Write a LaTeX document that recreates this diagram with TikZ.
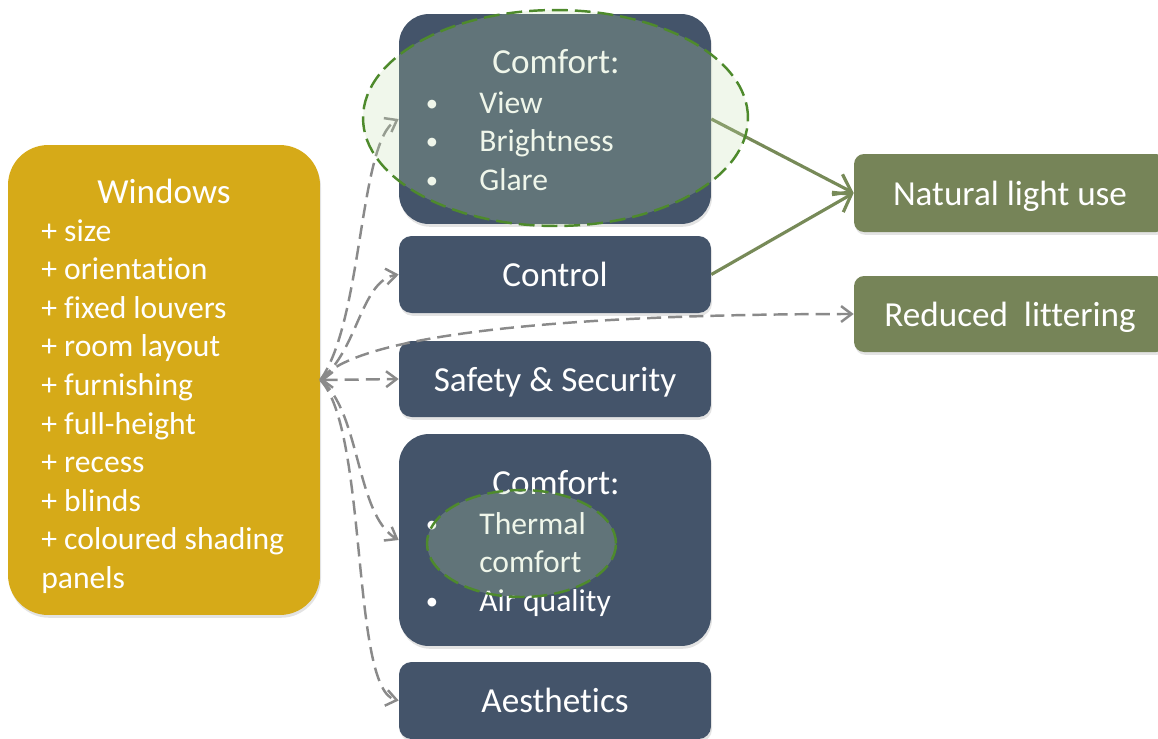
\documentclass[tikz,border=0pt]{standalone}
\usepackage{fontspec}
\setmainfont{Carlito}[Ligatures=NoCommon]
\usetikzlibrary{arrows.meta,shadows}
\definecolor{slate}{HTML}{44546A}
\definecolor{gold}{HTML}{D6AA18}
\definecolor{olive}{HTML}{768458}
\definecolor{oliveline}{HTML}{778A58}
\definecolor{hlgreen}{HTML}{4E8A2C}
\definecolor{hlfill}{RGB}{192,220,170}
\definecolor{conn}{HTML}{8A8A8A}
\begin{document}
\begin{tikzpicture}[x=0.02cm,y=-0.02cm,
  box/.style={inner sep=0pt, text=white, font=\fontsize{20}{24}\selectfont,
    text height=18pt, text depth=4pt, minimum width=6.24cm,
    drop shadow={opacity=0.22,shadow xshift=0.6pt,shadow yshift=-1.6pt}},
  ttl/.style={text=white, font=\fontsize{20}{24}\selectfont, inner sep=0pt, anchor=base},
  itm/.style={text=white, font=\fontsize{18}{22}\selectfont, inner sep=0pt, anchor=base west},
  bul/.style={text=white, font=\fontsize{14}{22}\selectfont, inner sep=0pt, anchor=base},
  tipg/.tip={Straight Barb[length=6pt,width=9pt]},
  conline/.style={draw=conn, line width=1.4pt, dash pattern=on 8pt off 4pt, -tipg},
  effline/.style={draw=oliveline, line width=1.8pt, -{Straight Barb[length=9pt,width=13pt]}},
  hl/.style={draw=hlgreen, line width=1.4pt, dash pattern=on 9pt off 4pt, fill=hlfill, fill opacity=0.24}
]
\useasboundingbox (0,0) rectangle (1158,738);

% boxes
\node[box, fill=gold, rounded corners=0.8cm, minimum height=9.4cm] (win) at (164,380) {};
\node[box, fill=slate, rounded corners=0.6cm, minimum height=4.2cm] (cA) at (555,119) {};
\node[box, fill=slate, rounded corners=0.25cm, minimum height=1.54cm] (ctrl) at (555,274.5) {Control};
\node[box, fill=slate, rounded corners=0.25cm, minimum height=1.52cm] (safe) at (555,379) {Safety \& Security};
\node[box, fill=slate, rounded corners=0.6cm, minimum height=4.24cm] (cB) at (555,540) {};
\node[box, fill=slate, rounded corners=0.25cm, minimum height=1.54cm] (aes) at (555,700.5) {Aesthetics};
\node[box, fill=olive, rounded corners=0.2cm, minimum height=1.56cm] (nat) at (1010,193) {Natural light use};
\node[box, fill=olive, rounded corners=0.2cm, minimum height=1.52cm] (red) at (1010,314) {Reduced\ \ littering};

% Windows text
\node[ttl] (winT) at (164,203) {Windows};
\foreach \t [count=\i from 0] in {+ size,+ orientation,+ fixed louvers,+ room layout,+ furnishing,+ full-height,+ recess,+ blinds,+ coloured shading,panels}
  \node[itm] (winI\i) at (41,{241+38.6*\i}) {\t};

% Comfort (top) text
\node[ttl] (cAT) at (556,73) {Comfort:};
\foreach \t [count=\i from 0] in {View,Brightness,Glare}{
  \node[bul] (cAb\i) at (432,{111+38.5*\i}) {•};
  \node[itm] (cAi\i) at (479,{113+38.5*\i}) {\t};
}

% Comfort (bottom) text
\node[ttl] (cBT) at (556,494) {Comfort:};
\node[bul] (cBb0) at (432,532) {•};
\node[itm] (cBi0) at (479,534) {Thermal};
\node[itm] (cBi1) at (479,572.5) {comfort};
\node[bul] (cBb1) at (432,609) {•};
\node[itm] (cBi2) at (479,611) {Air quality};

% dashed connectors from Windows
\draw[conline, tipg-tipg] (win.east) -- (safe.west);
\draw[conline] (win.east) .. controls +(43,-60) and +(-40,22) .. (cA.west);
\draw[conline] (win.east) .. controls +(38,-30) and +(-38,6) .. (ctrl.west);
\draw[conline] (win.east) .. controls +(38,-50) and +(-253,0) .. (red.west);
\draw[conline] (win.east) .. controls +(40,30) and +(-43,-25) .. (cB.west);
\draw[conline] (win.east) .. controls +(48,50) and +(-48,-10) .. (aes.west);

% solid effect arrows
\draw[effline] (cA.east) -- (nat.west);
\draw[effline] (ctrl.east) -- (nat.west);

% highlight ellipses
\draw[hl] (555.5,118) ellipse [x radius=3.85cm, y radius=2.16cm];
\draw[hl] (521.5,543.5) ellipse [x radius=1.89cm, y radius=1.07cm];
\end{tikzpicture}
\end{document}
